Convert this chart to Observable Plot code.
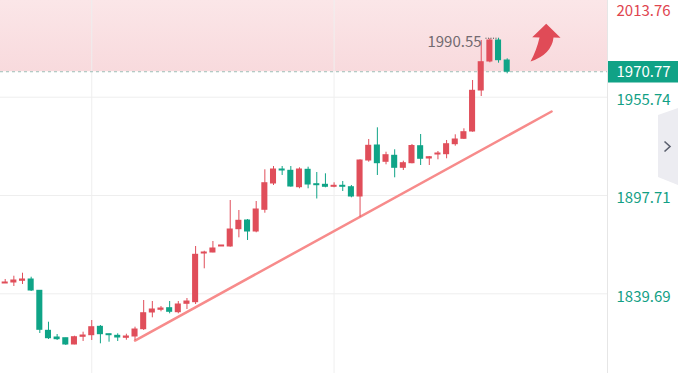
<!DOCTYPE html>
<html>
<head>
<meta charset="utf-8">
<script src="https://cdn.jsdelivr.net/npm/d3@7"></script>
<script src="https://cdn.jsdelivr.net/npm/@observablehq/plot@0.6"></script>
<style>
  html, body { margin: 0; padding: 0; background: #fff; }
  #chart svg { display: block; }
</style>
</head>
<body>
<div id="chart"></div>
<script>
// ---- data ----
const opens  = [1845.77,1846.36,1847.36,1848.13,1841.46,1817.84,1813.89,1813.47,1809.76,1814.30,1815.25,1820.20,1815.84,1814.89,1813.71,1814.48,1818.79,1828.65,1830.24,1831.19,1828.82,1833.78,1834.73,1863.47,1864.06,1867.61,1867.61,1877.82,1882.95,1876.46,1889.27,1904.80,1913.06,1912.29,1902.61,1912.88,1904.38,1904.03,1902.85,1903.44,1902.61,1897.12,1918.37,1927.23,1917.61,1921.15,1914.06,1916.78,1926.81,1919.55,1921.91,1922.09,1927.99,1931.18,1935.49,1959.69,1976.81,1989.21,1977.40];
const highs  = [1848.13,1850.07,1851.84,1849.48,1841.63,1822.92,1815.66,1813.47,1814.66,1817.02,1823.92,1820.97,1815.84,1816.07,1815.84,1819.97,1835.73,1835.14,1832.19,1835.14,1835.14,1836.91,1867.61,1864.83,1870.56,1868.20,1894.76,1888.86,1883.54,1894.17,1912.88,1914.83,1914.83,1914.83,1914.06,1914.42,1911.29,1910.52,1905.21,1905.98,1903.61,1918.79,1930.77,1937.67,1923.27,1924.69,1917.96,1927.82,1933.72,1920.73,1923.68,1930.18,1933.54,1937.09,1965.60,1989.21,1990.21,1990.55,1978.41];
const lows   = [1845.77,1843.99,1845.17,1841.04,1816.25,1812.71,1812.12,1809.17,1809.58,1811.53,1812.12,1810.17,1811.12,1811.53,1812.29,1812.12,1818.02,1825.52,1829.06,1827.88,1827.88,1830.42,1833.37,1854.44,1863.89,1867.61,1867.19,1872.74,1871.15,1875.69,1887.26,1903.61,1909.52,1902.61,1901.67,1901.67,1895.65,1902.26,1902.26,1900.07,1896.35,1884.90,1917.37,1909.52,1915.83,1908.16,1912.47,1916.42,1915.42,1915.42,1918.78,1919.38,1926.81,1930.77,1935.08,1956.15,1976.04,1975.81,1969.55];
const closes = [1846.36,1847.54,1848.13,1841.63,1818.43,1813.47,1812.89,1809.76,1814.07,1815.07,1819.97,1815.84,1815.25,1813.89,1814.48,1818.61,1828.23,1830.42,1831.01,1829.06,1833.37,1835.14,1862.71,1864.06,1866.43,1868.20,1877.64,1882.78,1876.46,1889.45,1904.97,1913.06,1912.47,1903.02,1913.06,1904.20,1903.79,1902.85,1903.44,1902.85,1897.12,1918.37,1927.05,1916.78,1921.50,1914.06,1916.78,1926.93,1919.38,1920.32,1922.50,1927.99,1930.77,1935.08,1959.52,1976.40,1989.21,1977.58,1970.77];

const gridTicks   = [1955.74, 1897.71, 1839.69];   // green right-axis labels
const topTick     = 2013.76;                       // red top label
const lastPrice   = 1970.77;                       // current price
const highPrice   = 1990.55;                       // marked high
const timeGridIdx = [10, 38];                      // vertical grid lines (bar index)
const trendIdx    = [15, 63.13];
const trendPrice  = [1812.1, 1947.3];
const arrowPos    = {i: 62.43, p: 1988.0};

const RED = "#e04e5a", GREEN = "#0fa487", TEAL = "#10a286";

const candles = opens.map((o, i) => ({i, open: o, high: highs[i], low: lows[i], close: closes[i]}));
const trend = trendIdx.map((i, k) => ({i, p: trendPrice[k]}));
const highIdx = highs.indexOf(d3.max(highs));

const xDom = [-0.543, 69.59];
const yDom = [1792.64, 2012.82];
const pxPerIdx = 607 / (xDom[1] - xDom[0]);

const defs = () => {
  const g = d3.create("svg:defs");
  const lg = g.append("linearGradient").attr("id", "pinkGrad")
    .attr("x1", 0).attr("y1", 0).attr("x2", 0).attr("y2", 1);
  lg.append("stop").attr("offset", "0%").attr("stop-color", "#fbe6e8");
  lg.append("stop").attr("offset", "100%").attr("stop-color", "#f8dadd");
  return g.node();
};

const arrowSymbol = {
  draw(ctx) {
    ctx.moveTo(0.7, -18.7);
    ctx.lineTo(15, -4.7);
    ctx.lineTo(8, -5);
    ctx.quadraticCurveTo(6, 12, -15, 19);
    ctx.quadraticCurveTo(-9, 8, -6, -5);
    ctx.lineTo(-13.3, -5.3);
    ctx.closePath();
  }
};

const tab = (index, scales, values, dims) => {
  const g = d3.create("svg:g");
  const W = dims.width;
  g.append("path")
    .attr("d", `M${W},108 L${W - 20},115 L${W - 20},177 L${W},185 Z`)
    .attr("fill", "#ececf1");
  g.append("path")
    .attr("d", `M${W - 13.5},141.5 L${W - 8},146.5 L${W - 13.5},151.5`)
    .attr("fill", "none").attr("stroke", "#5b606e").attr("stroke-width", 1.6);
  return g.node();
};

const chart = Plot.plot({
  width: 678,
  height: 373,
  marginLeft: 0,
  marginRight: 71,
  marginTop: 0,
  marginBottom: 0,
  style: {fontFamily: "'Noto Sans CJK SC', 'Noto Sans', sans-serif", background: "#fff"},
  x: {domain: xDom, axis: null},
  y: {domain: yDom, axis: null},
  marks: [
    defs,
    Plot.rect([0], {x1: xDom[0], x2: xDom[1], y1: lastPrice, y2: yDom[1], fill: "url(#pinkGrad)"}),
    Plot.gridY(gridTicks, {stroke: "#eeeeee", strokeOpacity: 1}),
    Plot.ruleX(timeGridIdx, {stroke: "#efefef"}),
    Plot.ruleX([xDom[1]], {stroke: "#e6e6e6"}),
    Plot.ruleY([lastPrice], {stroke: "#9fbdb6", strokeDasharray: "3,3"}),
    Plot.line(trend, {x: "i", y: "p", stroke: "#f78b8b", strokeWidth: 2.5}),
    Plot.ruleX(candles, {x: "i", y1: "low", y2: "high", stroke: d => d.close > d.open ? RED : GREEN, strokeWidth: 1}),
    Plot.rect(candles, {
      x1: d => d.i - 0.35, x2: d => d.i + 0.35,
      y1: "open", y2: "close",
      fill: d => d.close > d.open ? RED : GREEN,
      insetTop: -0.5, insetBottom: -0.5
    }),
    Plot.ruleY([highPrice], {x1: highIdx - 1.45, x2: highIdx, stroke: "#444", strokeDasharray: "1,1.5"}),
    Plot.text([highPrice], {x: highIdx, y: d => d, text: d => d.toFixed(2), textAnchor: "end", dx: -17, dy: 4, fill: "#726a70", fontSize: 15}),
    Plot.dot([arrowPos], {x: "i", y: "p", symbol: arrowSymbol, r: 5, fill: "#e04b57", stroke: "none"}),
    Plot.axisY(gridTicks, {anchor: "right", tickSize: 0, tickPadding: 9, fill: "#12a085", fontSize: 15, dy: 3, tickFormat: d => d.toFixed(2), label: null}),
    Plot.axisY([topTick], {anchor: "right", tickSize: 0, tickPadding: 9, fill: "#e0454f", fontSize: 15, dy: 12.5, tickFormat: d => d.toFixed(2), label: null}),
    Plot.ruleY([lastPrice], {x1: xDom[1] + 1 / pxPerIdx, x2: xDom[1] + 72 / pxPerIdx, stroke: TEAL, strokeWidth: 21.5}),
    Plot.axisY([lastPrice], {anchor: "right", tickSize: 0, tickPadding: 9, fill: "#ffffff", fontSize: 15, tickFormat: d => d.toFixed(2), label: null}),
    tab
  ]
});

document.getElementById("chart").appendChild(chart);
</script>
</body>
</html>
